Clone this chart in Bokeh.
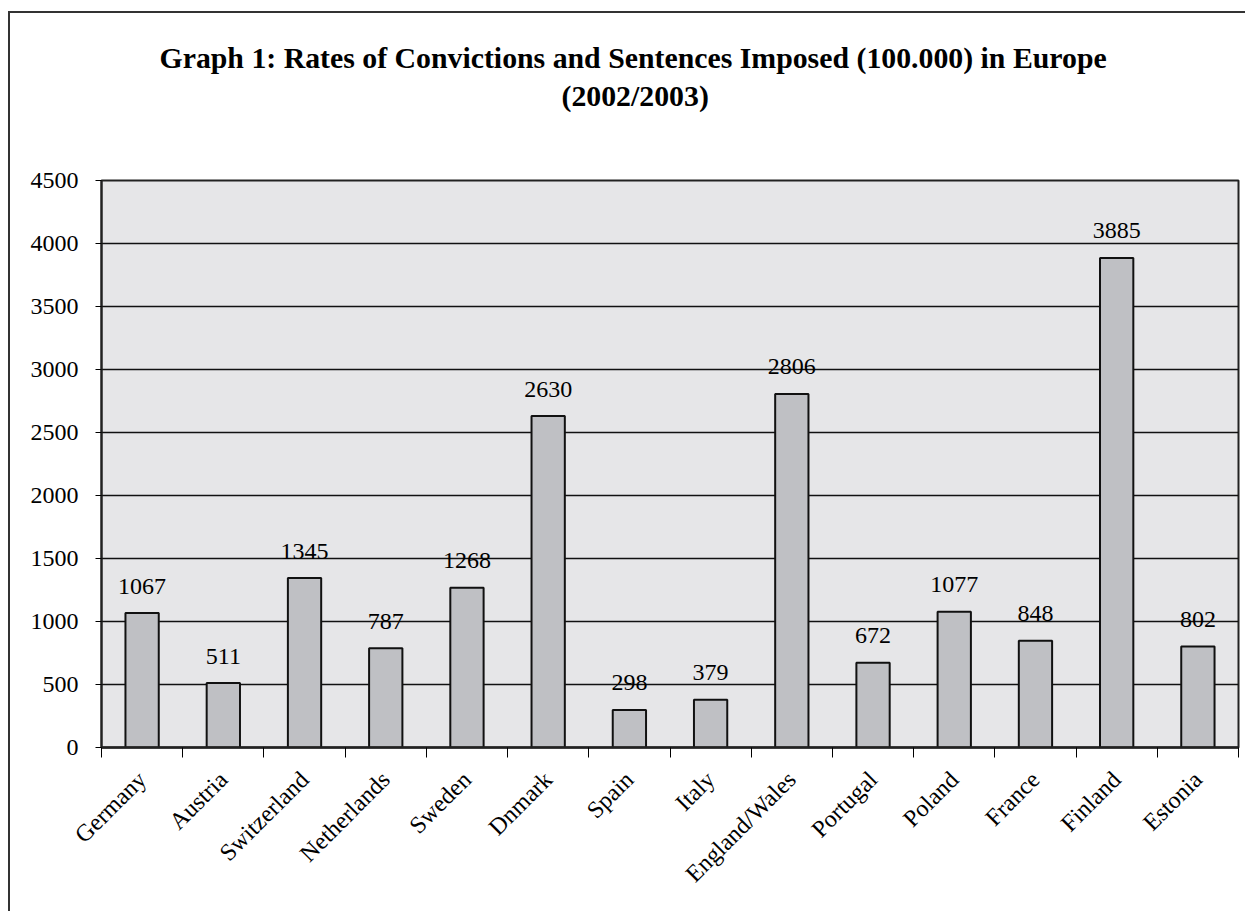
import math
from bokeh.plotting import figure
from bokeh.models import (Range1d, FixedTicker, ColumnDataSource, Title)
from bokeh.core.properties import value
from bokeh.embed import file_html
from bokeh.resources import INLINE

# ---- data ----
countries = ["Germany", "Austria", "Switzerland", "Netherlands", "Sweden", "Dnmark",
             "Spain", "Italy", "England/Wales", "Portugal", "Poland", "France",
             "Finland", "Estonia"]
rates = [1067, 511, 1345, 787, 1268, 2630, 298, 379, 2806, 672, 1077, 848, 3885, 802]
y_ticks = [0, 500, 1000, 1500, 2000, 2500, 3000, 3500, 4000, 4500]
title_line1 = "Graph 1: Rates of Convictions and Sentences Imposed (100.000) in Europe"
title_line2 = "(2002/2003)"

FONT = "Liberation Serif"
n = len(countries)
centers = [i + 0.5 for i in range(n)]
src = ColumnDataSource(dict(x=centers, top=rates, lab=[str(v) for v in rates]))

p = figure(width=1237, height=900, output_backend="svg", toolbar_location=None,
           x_range=Range1d(0, n), y_range=Range1d(0, 4500),
           min_border_left=91, min_border_right=9, min_border_top=167, min_border_bottom=166,
           background_fill_color="#e6e6e8", border_fill_color="white")
p.styles = {"margin-left": "8px", "margin-top": "11px",
            "border-style": "solid none none solid",
            "border-width": "2px 0px 0px 2px",
            "border-color": "#333333",
            "box-shadow": "none", "outline": "none"}

p.outline_line_color = "#222222"
p.outline_line_width = 2

# grid
p.xgrid.visible = False
p.ygrid.ticker = FixedTicker(ticks=y_ticks)
p.ygrid.grid_line_color = "#111111"
p.ygrid.grid_line_width = 1.5

# bars
p.vbar(x="x", top="top", width=0.41, source=src, fill_color="#bfc0c4",
       line_color="#111111", line_width=2)

# value labels
p.text(x="x", y="top", text="lab", source=src, y_offset=-27,
       text_align="center", text_baseline="alphabetic",
       text_font=value(FONT), text_font_size="24px", text_color="black")

# y axis
ya = p.yaxis[0]
ya.ticker = FixedTicker(ticks=y_ticks)
ya.major_tick_out = 6
ya.major_tick_in = 0
ya.minor_tick_line_color = None
ya.major_tick_line_color = "black"
ya.axis_line_color = "#222222"
ya.axis_line_width = 2
ya.major_label_standoff = 17
ya.major_label_text_font = FONT
ya.major_label_text_font_size = "24px"
ya.major_label_text_color = "black"

# x axis
xa = p.xaxis[0]
xa.ticker = FixedTicker(ticks=centers, minor_ticks=list(range(n + 1)))
xa.major_label_overrides = {c: name for c, name in zip(centers, countries)}
xa.major_tick_line_color = None
xa.major_tick_out = 0
xa.major_tick_in = 0
xa.minor_tick_line_color = "black"
xa.minor_tick_out = 10
xa.minor_tick_in = 0
xa.axis_line_color = "#222222"
xa.axis_line_width = 2.5
xa.major_label_orientation = math.pi / 4
xa.major_label_standoff = 18
xa.major_label_text_font = FONT
xa.major_label_text_font_size = "24px"
xa.major_label_text_color = "black"

# title (two lines) as Title layouts above the frame; a blank spacer sits nearest the frame
title_kw = dict(text_font=FONT, text_font_size="29.8px", text_font_style="bold",
                text_color="black")
p.add_layout(Title(text=" ", align="left", offset=0, standoff=34, **title_kw), "above")
p.add_layout(Title(text=title_line2, align="left", offset=460, standoff=0, **title_kw), "above")
p.add_layout(Title(text=title_line1, align="left", offset=58, standoff=5, **title_kw), "above")

open("out.html", "w").write(file_html(p, INLINE))
